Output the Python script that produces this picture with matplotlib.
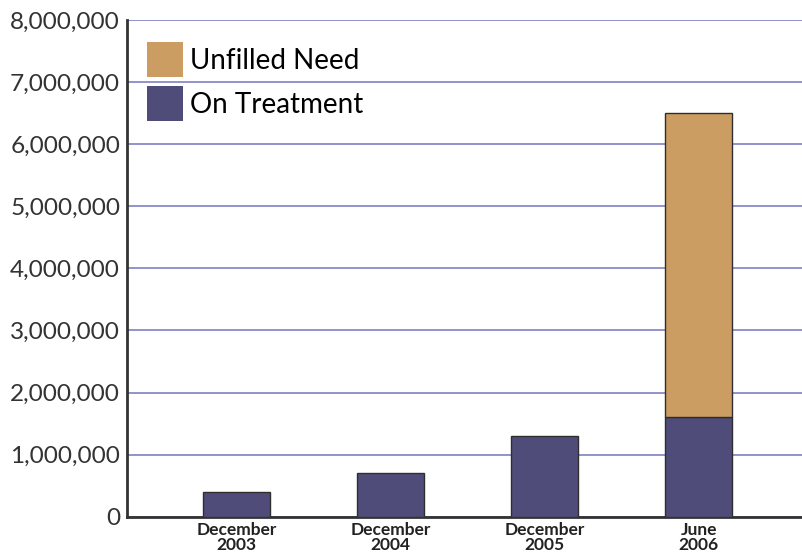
import numpy as np
import matplotlib.pyplot as plt
from matplotlib.patches import Patch

# Data
periods = ["December\n2003", "December\n2004", "December\n2005", "June\n2006"]
on_treatment = [400000, 700000, 1300000, 1600000]
unfilled_need = [0, 0, 0, 4900000]

purple = "#4f4c7a"
tan = "#cc9d62"
edge = "#2e2e2e"

fig = plt.figure(figsize=(8.02, 5.58), dpi=100)
ax = fig.add_axes([0.1584, 0.074, 0.8416, 0.89])

x = np.arange(len(periods))
width = 0.435

ax.bar(x, on_treatment, width, color=purple, edgecolor=edge, linewidth=1, zorder=3)
top = [u if u > 0 else np.nan for u in unfilled_need]
ax.bar(x, top, width, bottom=on_treatment, color=tan, edgecolor=edge,
       linewidth=1, zorder=3)

ax.set_xlim(-0.712, 3.67)
ax.set_ylim(0, 8000000)
ax.set_yticks(np.arange(0, 8000001, 1000000))
ax.set_yticklabels([f"{v:,}" for v in range(0, 8000001, 1000000)],
                   fontsize=17.6, color="#333333", family="Lato")
ax.set_xticks(x)
ax.set_xticklabels(periods, fontsize=12.5, color="#222222", family="Lato",
                   fontweight="bold", linespacing=0.9)
ax.tick_params(axis="both", length=0)
ax.tick_params(axis="y", pad=5)
ax.tick_params(axis="x", pad=4)

ax.yaxis.grid(True, color="#8a8ac8", linewidth=1.3, zorder=0)
ax.set_axisbelow(True)
for side in ["top", "right"]:
    ax.spines[side].set_visible(False)
for side in ["left", "bottom"]:
    ax.spines[side].set_color("#333333")
    ax.spines[side].set_linewidth(2)

handles = [Patch(facecolor=tan, edgecolor="none", label="Unfilled Need"),
           Patch(facecolor=purple, edgecolor="none", label="On Treatment")]
ax.legend(handles=handles, loc="upper left", bbox_to_anchor=(0.03, 0.955),
          frameon=False, prop={"family": "Lato", "size": 20},
          handlelength=1.3, handleheight=1.56, labelspacing=0.32,
          handletextpad=0.25, borderaxespad=0, borderpad=0)

fig.savefig("out.png", dpi=100)
